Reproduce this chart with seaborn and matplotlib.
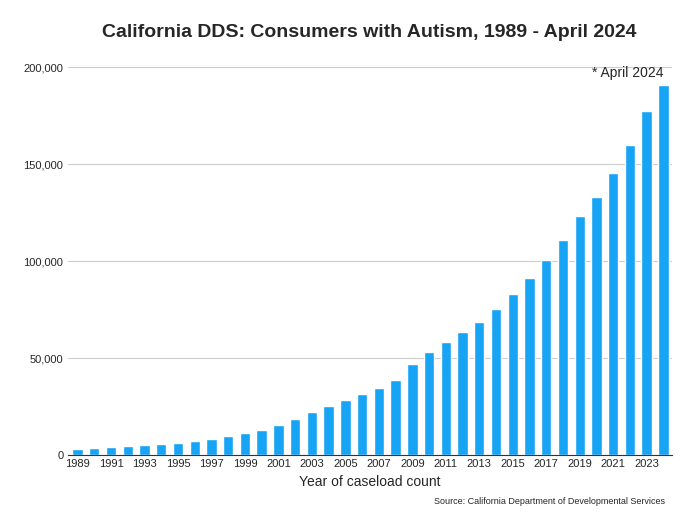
import matplotlib
matplotlib.use("Agg")
import matplotlib.pyplot as plt
import seaborn as sns
import pandas as pd

years = list(range(1989, 2025))
consumers = [3000, 3600, 4100, 4600, 5200, 5700, 6200, 7200, 8200, 9800,
             11300, 12900, 15500, 18600, 22200, 25300, 28300, 31400, 34500, 38700,
             46900, 53100, 58200, 63400, 68600, 75300, 83000, 91200, 100500, 110800,
             123200, 133000, 145400, 159800, 177300, 190700]

df = pd.DataFrame({"year": [str(y) for y in years], "count": consumers})

sns.set_style("white")
plt.rcParams['font.family'] = ['Liberation Sans', 'DejaVu Sans']

fig, ax = plt.subplots(figsize=(6.89, 5.17), dpi=100)
sns.barplot(data=df, x="year", y="count", color="#18a4f5", saturation=1, width=0.62, ax=ax)

ax.set_ylim(0, 200000)
ax.set_yticks(range(0, 200001, 50000))
ax.set_yticklabels([f"{v:,}" for v in range(0, 200001, 50000)], fontsize=8)
ax.yaxis.grid(True, color="#cccccc", linewidth=0.8)
ax.set_axisbelow(True)
ax.set_xticks(range(0, len(years), 2))
ax.set_xticklabels([str(y) for y in years[::2]], fontsize=8)
ax.tick_params(axis="both", length=0, pad=3)
ax.set_xlim(-0.6, len(years) - 0.5)
for s in ["top", "right", "left"]:
    ax.spines[s].set_visible(False)
ax.spines["bottom"].set_color("#333333")
ax.set_xlabel("Year of caseload count", fontsize=10)
ax.set_ylabel("")
ax.set_title("California DDS: Consumers with Autism, 1989 - April 2024",
             fontsize=14, fontweight="bold", pad=22)
ax.text(len(years) - 1, consumers[-1] + 2500, "* April 2024", ha="right", va="bottom", fontsize=10)
fig.text(0.965, 0.025, "Source: California Department of Developmental Services", ha="right", fontsize=6.5)

plt.subplots_adjust(left=0.098, right=0.975, top=0.87, bottom=0.12)
fig.savefig("out.png", dpi=100)
